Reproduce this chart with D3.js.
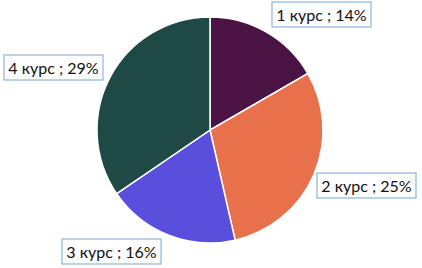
<!DOCTYPE html>
<html>
<head>
<meta charset="utf-8">
<script src="https://cdn.jsdelivr.net/npm/d3@7"></script>
<style>
  body { margin: 0; background: #fff; }
  svg { display: block; }
</style>
</head>
<body>
<div id="chart"></div>
<script>
const categories = ["1 курс", "2 курс", "3 курс", "4 курс"];
const values = [14, 25, 16, 29];
const colors = ["#4b1244", "#e8704a", "#5a4fdc", "#1f4944"];
// label box top-left corners
const labelPos = [[272, 2], [317, 173], [62, 239], [4, 55]];

const width = 422;
const height = 268;
const cx = 210, cy = 130, radius = 113;

const svg = d3.select("#chart")
              .append("svg")
              .attr("width", width)
              .attr("height", height);

const pie = d3.pie().sort(null).value(d => d.value);
const arc = d3.arc().innerRadius(0).outerRadius(radius);

const data = categories.map((c, i) => ({ name: c, value: values[i], color: colors[i] }));

svg.append("g")
   .attr("transform", "translate(" + cx + "," + cy + ")")
   .selectAll("path")
   .data(pie(data))
   .enter()
   .append("path")
   .attr("d", arc)
   .attr("fill", d => d.data.color)
   .attr("stroke", "#fff")
   .attr("stroke-width", 1.5);

const labels = svg.selectAll("g.label")
                  .data(data)
                  .enter()
                  .append("g")
                  .attr("class", "label")
                  .attr("transform", (d, i) => "translate(" + labelPos[i][0] + "," + labelPos[i][1] + ")");

labels.append("rect")
      .attr("width", 99)
      .attr("height", 25)
      .attr("fill", "#fff")
      .attr("stroke", "#8fb3de")
      .attr("stroke-width", 1.2);

labels.append("text")
      .attr("x", 49.5)
      .attr("y", 18.5)
      .attr("text-anchor", "middle")
      .style("font-family", "Lato")
      .style("font-size", "16px")
      .style("fill", "#111")
      .text(d => d.name + " ; " + d.value + "%");
</script>
</body>
</html>
